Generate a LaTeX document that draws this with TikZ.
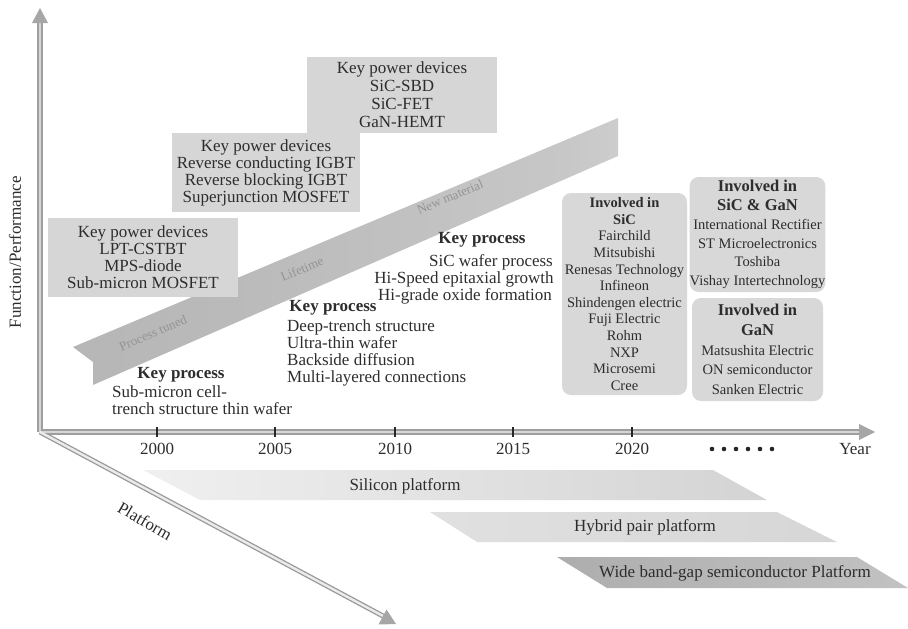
\documentclass[tikz,border=0pt]{standalone}
\usepackage{fontspec}
\setmainfont{Liberation Serif}
\usetikzlibrary{shapes.geometric}
\definecolor{boxgray}{RGB}{214,214,214}
\definecolor{cgray}{RGB}{216,216,216}
\definecolor{txtc}{RGB}{45,45,45}
\pgfdeclarehorizontalshading{bandshade}{100bp}{color(0bp)=(black!31); color(40bp)=(black!27); color(70bp)=(black!22); color(88bp)=(black!14); color(100bp)=(black!2)}
\newcommand\hdrline[1]{{\fontsize{16.5}{18.8}\selectfont\bfseries #1}}
\begin{document}
\begin{tikzpicture}[x=1pt,y=-1pt,
  txt/.style={font=\fontsize{17}{17}\selectfont, text=txtc, inner sep=0pt, align=center},
  ltxt/.style={font=\fontsize{17}{17}\selectfont, text=txtc, inner sep=0pt, align=left},
  ctxt/.style={font=\fontsize{14.5}{16.6}\selectfont, text=txtc, inner sep=0pt, align=center},
  pbox/.style={fill=boxgray, inner sep=0pt},
  cbox/.style={fill=cgray, rounded corners=9pt, inner sep=0pt},
  bandtxt/.style={font=\fontsize{13}{13}\selectfont, text=black!42, inner sep=0pt, rotate=23},
  yeartxt/.style={font=\fontsize{17}{17}\selectfont, text=txtc, inner sep=0pt},
  axisout/.style={line width=6pt, draw=black!38},
  axisin/.style={line width=2.6pt, draw=black!16},
  tickmark/.style={line width=2.2pt, draw=black!85}]
\useasboundingbox (0,0) rectangle (908,629);

% ---- axes ----
\coordinate (O) at (40,432);
\coordinate (Ytop) at (40,20);
\coordinate (Xend) at (861,432);
\coordinate (Pend) at (383,616);
\draw[axisout] (O) -- (Ytop);
\draw[axisout] (O) -- (Xend);
\draw[line width=5pt, draw=black!40] (O) -- (Pend);
\draw[axisin] (O) -- (Ytop);
\draw[axisin] (O) -- (Xend);
\draw[line width=2.4pt, draw=black!8] (O) -- (Pend);
\fill[black!35] (40,8) -- (32,23) -- (48,23) -- cycle;
\fill[black!35] (875,432) -- (859,424) -- (859,440) -- cycle;
\fill[black!35] (396,624) -- (378.5,624.5) -- (386.5,609.5) -- cycle;

% ticks and years
\foreach \xx/\yr in {157/2000,275/2005,395/2010,513/2015,632/2020}{
  \draw[tickmark] (\xx,427) -- (\xx,437);
  \node[yeartxt] (y\yr) at (\xx,449) {\yr};
}
\foreach \k in {0,...,5}{\fill[black!85] (712+12*\k,449) circle (2.3pt);}
\node[yeartxt] (year) at (855,449) {Year};

% axis labels
\node[txt, rotate=90] (fp) at (15,252) {Function/Performance};
\node[txt, rotate=-30] (plat) at (145,521) {Platform};

% ---- diagonal band ----
\shade[shading=bandshade] (73,347) -- (618,118) -- (618,156) -- (93,385) -- (93,362) -- cycle;
\node[bandtxt] (b1) at (153,333) {Process tuned};
\node[bandtxt] (b2) at (302,269) {Lifetime};
\node[bandtxt] (b3) at (450,197) {New material};

% ---- key power device boxes ----
\node[pbox, txt, minimum width=190pt, minimum height=79pt] (pd1) at (143,257.5)
  {Key power devices\\LPT-CSTBT\\MPS-diode\\Sub-micron MOSFET};
\node[pbox, txt, minimum width=188pt, minimum height=79pt] (pd2) at (266,172.5)
  {Key power devices\\Reverse conducting IGBT\\Reverse blocking IGBT\\Superjunction MOSFET};
\node[pbox, txt, font=\fontsize{17}{18}\selectfont, minimum width=190pt, minimum height=76pt] (pd3) at (402,95)
  {Key power devices\\SiC-SBD\\SiC-FET\\GaN-HEMT};

% ---- key processes ----
\node[txt, font=\fontsize{17}{17}\selectfont\bfseries] (kp1h) at (181,375) {Key process};
\node[ltxt, anchor=west] (kp1) at (112,400) {Sub-micron cell-\\trench structure thin wafer};
\node[txt, font=\fontsize{17}{17}\selectfont\bfseries] (kp2h) at (333,308) {Key process};
\node[ltxt, anchor=west] (kp2) at (287,352.5) {Deep-trench structure\\Ultra-thin wafer\\Backside diffusion\\Multi-layered connections};
\node[txt, font=\fontsize{17}{17}\selectfont\bfseries] (kp3h) at (482,240) {Key process};
\node[txt] (kp3a) at (491,262) {SiC wafer process};
\node[txt] (kp3b) at (464,279) {Hi-Speed epitaxial growth};
\node[txt] (kp3c) at (465,296) {Hi-grade oxide formation};

% ---- company boxes ----
\node[cbox, ctxt, minimum width=125pt, minimum height=202pt] (sic) at (624.5,294)
  {\textbf{Involved in}\\\textbf{SiC}\\Fairchild\\Mitsubishi\\Renesas Technology\\Infineon\\Shindengen electric\\Fuji Electric\\Rohm\\NXP\\Microsemi\\Cree};
\node[cbox, ctxt, font=\fontsize{14.5}{18.8}\selectfont, minimum width=131pt, minimum height=115pt] (sicgan) at (757.5,234.5)
  {\hdrline{Involved in}\\\hdrline{SiC \& GaN}\\International Rectifier\\ST Microelectronics\\Toshiba\\Vishay Intertechnology};
\node[cbox, ctxt, font=\fontsize{14.5}{19.6}\selectfont, minimum width=131pt, minimum height=103pt] (gan) at (757.5,349.5)
  {\hdrline{Involved in}\\\hdrline{GaN}\\Matsushita Electric\\ON semiconductor\\Sanken Electric};

% ---- platforms ----
\shade[left color=black!6, right color=black!17] (143,470) -- (713,470) -- (767,500) -- (200,500) -- cycle;
\node[txt] (si) at (405,486) {Silicon platform};
\shade[left color=black!12, right color=black!16] (430,512) -- (777,512) -- (837,542) -- (477,542) -- cycle;
\node[txt] (hy) at (645,527) {Hybrid pair platform};
\shade[left color=black!32, right color=black!24] (557,557) -- (857,557) -- (908,588) -- (607,588) -- cycle;
\node[txt] (wb) at (735,573) {Wide band-gap semiconductor Platform};
\end{tikzpicture}
\end{document}
